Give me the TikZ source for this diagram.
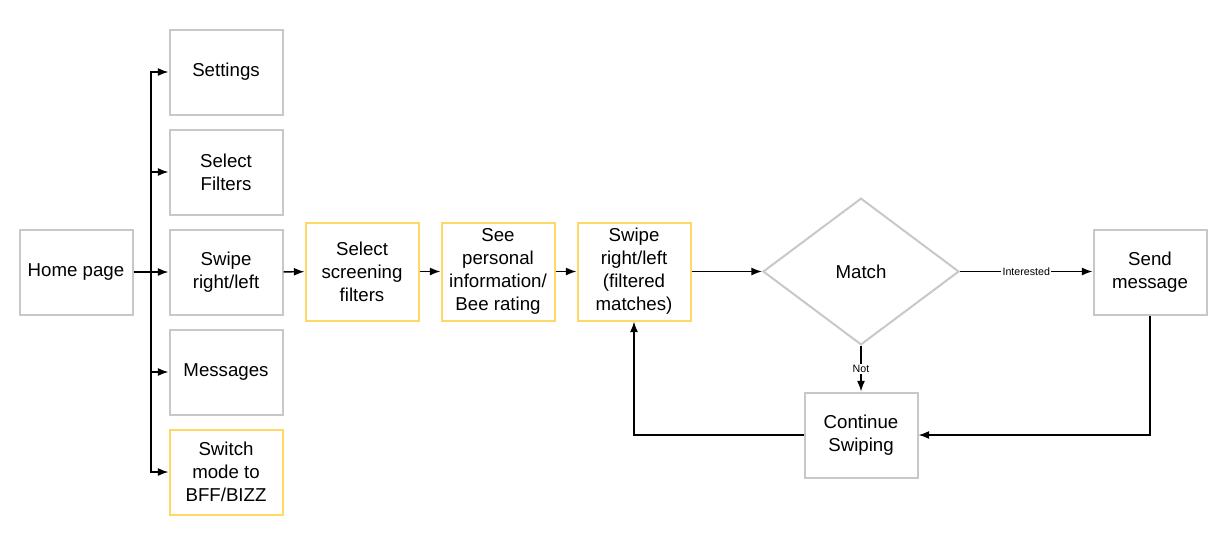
\documentclass[tikz,border=0pt]{standalone}
\usepackage{fontspec}
\setmainfont{Liberation Sans}
\usetikzlibrary{shapes.geometric,arrows.meta}
\definecolor{boxgray}{HTML}{C8C8C8}
\definecolor{boxyellow}{HTML}{FFD966}

\begin{document}
\begin{tikzpicture}[x=0.75pt,y=-0.75pt,
    box/.style={draw=boxgray,line width=1.5pt,minimum width=84.75pt,minimum height=63.75pt,
        inner sep=0pt,align=center,font=\fontsize{14}{17.25}\selectfont},
    ybox/.style={box,draw=boxyellow},
    tallbox/.style={ybox,minimum height=73.5pt},
    decision/.style={diamond,draw=boxgray,line width=1.5pt,minimum width=147pt,minimum height=110pt,
        inner sep=0pt,font=\fontsize{14}{17.25}\selectfont},
    arr/.style={-{Latex[length=8pt,width=6pt]},line width=1.1pt},
    lbl/.style={fill=white,inner sep=1pt,font=\fontsize{8}{9}\selectfont}]
    \useasboundingbox (0,0) rectangle (1226,544);
    \node[box] (home) at (76,272) {Home page};
    \node[box] (settings) at (226,72) {Settings};
    \node[box] (filters) at (226,172) {Select\\Filters};
    \node[box] (swipe) at (226,272) {Swipe\\right/left};
    \node[box] (messages) at (226,372) {Messages};
    \node[ybox] (switch) at (226,472) {Switch\\mode to\\BFF/BIZZ};
    \node[tallbox] (screen) at (362,271.5) {Select\\screening\\filters};
    \node[tallbox] (seeinfo) at (498,271.5) {See\\personal\\information/\\Bee rating};
    \node[tallbox] (swipef) at (634,271.5) {Swipe\\right/left\\(filtered\\matches)};
    \node[decision] (match) at (861,271.5) {Match};
    \node[box] (send) at (1150,272) {Send\\message};
    \node[box] (cont) at (861,435) {Continue\\Swiping};
    \coordinate (bus) at (151,272);
    \draw[arr] (home) -- (swipe);
    \draw[line width=1.1pt] (bus |- settings) -- (bus |- switch);
    \draw[arr] (bus) |- (settings);
    \draw[arr] (bus) |- (filters);
    \draw[arr] (bus) |- (messages);
    \draw[arr] (bus) |- (switch);
    \draw[arr] (swipe) -- (screen);
    \draw[arr] (screen) -- (seeinfo);
    \draw[arr] (seeinfo) -- (swipef);
    \draw[arr] (swipef) -- (match);
    \draw[arr] (match.east) -- node[lbl] {Interested} (match.east -| send.west);
    \draw[arr] (match.south) -- node[lbl] {Not} (cont.north);
    \draw[arr] (send.south) |- (cont);
    \draw[arr] (cont) -| (swipef.south);
\end{tikzpicture}
\end{document}
